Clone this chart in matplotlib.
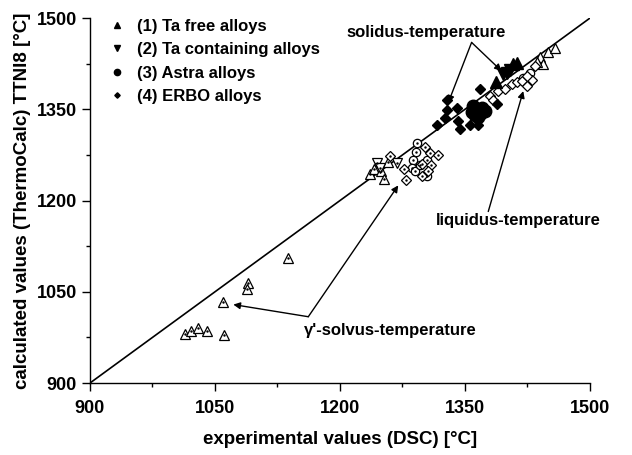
import matplotlib.pyplot as plt
from matplotlib.ticker import MultipleLocator

plt.rcParams['font.family'] = ['Liberation Sans', 'DejaVu Sans']
plt.rcParams['font.weight'] = 'bold'

# gamma' solvus (open markers with a dot)
ta_free_gs_x = [1014, 1021, 1030, 1041, 1061, 1060, 1090, 1089, 1138, 1236, 1241, 1249, 1253, 1258]
ta_free_gs_y = [981, 986, 991, 985, 979, 1034, 1064, 1054, 1105, 1243, 1252, 1248, 1235, 1264]
ta_cont_gs_x = [1244, 1248, 1268]
ta_cont_gs_y = [1261, 1254, 1262]
astra_gs_x = [1293, 1291, 1304, 1288, 1287, 1290, 1304, 1296]
astra_gs_y = [1295, 1280, 1267, 1267, 1254, 1248, 1240, 1259]
erbo_gs_x = [1260, 1302, 1308, 1318, 1277, 1298, 1309, 1299, 1306, 1279]
erbo_gs_y = [1274, 1288, 1279, 1275, 1252, 1260, 1258, 1240, 1248, 1233]

# solidus (filled markers)
ta_free_sol_x = [1408, 1412, 1387]
ta_free_sol_y = [1424, 1427, 1395]
ta_cont_sol_x = [1400, 1396, 1404]
ta_cont_sol_y = [1410, 1408, 1414]
astra_sol_x = [1358, 1364, 1370, 1362, 1368, 1374, 1360, 1366]
astra_sol_y = [1345, 1350, 1352, 1340, 1342, 1348, 1356, 1337]
erbo_sol_x = [1368, 1329, 1340, 1326, 1316, 1342, 1344, 1356, 1366, 1388, 1328]
erbo_sol_y = [1383, 1349, 1353, 1336, 1324, 1331, 1318, 1324, 1325, 1358, 1365]

# liquidus (open markers)
ta_liq_x = [1440, 1450, 1458, 1444, 1436]
ta_liq_y = [1436, 1444, 1451, 1425, 1428]
astra_liq_x = [1420, 1428]
astra_liq_y = [1402, 1410]
erbo_liq_x = [1380, 1390, 1398, 1406, 1412, 1418, 1424, 1430, 1424, 1434, 1384]
erbo_liq_y = [1372, 1380, 1383, 1391, 1395, 1397, 1389, 1399, 1405, 1421, 1366]

fig = plt.figure(figsize=(6.32, 4.55), dpi=100)
ax = fig.add_axes([0.1424, 0.1582, 0.791, 0.802])

ax.plot([900, 1500], [900, 1500], color='k', lw=1.2, zorder=1)

def open_dot(x, y, m, ms):
    ax.plot(x, y, m, ms=ms, mfc='white', mec='k', mew=0.9, ls='none', zorder=3)
    ax.plot(x, y, '.', ms=1.5, color='k', ls='none', zorder=4)

open_dot(ta_free_gs_x, ta_free_gs_y, '^', 6.5)
open_dot(ta_cont_gs_x, ta_cont_gs_y, 'v', 6.5)
open_dot(astra_gs_x, astra_gs_y, 'o', 6)
open_dot(erbo_gs_x, erbo_gs_y, 'D', 5.5)

ax.plot(ta_liq_x, ta_liq_y, '^', ms=6.5, mfc='white', mec='k', mew=0.9, ls='none', zorder=3)
ax.plot(astra_liq_x, astra_liq_y, 'o', ms=6, mfc='white', mec='k', mew=0.9, ls='none', zorder=3)
ax.plot(erbo_liq_x, erbo_liq_y, 'D', ms=5.5, mfc='white', mec='k', mew=0.9, ls='none', zorder=3)

l1, = ax.plot(ta_free_sol_x, ta_free_sol_y, '^', ms=9, color='k', ls='none', zorder=3)
l2, = ax.plot(ta_cont_sol_x, ta_cont_sol_y, 'v', ms=9, color='k', ls='none', zorder=3)
l3, = ax.plot(astra_sol_x, astra_sol_y, 'o', ms=9, color='k', ls='none', zorder=3)
l4, = ax.plot(erbo_sol_x, erbo_sol_y, 'D', ms=5.5, color='k', ls='none', zorder=3)

leg = ax.legend([l1, l2, l3, l4],
                ['(1) Ta free alloys', '(2) Ta containing alloys', '(3) Astra alloys', '(4) ERBO alloys'],
                loc='upper left', frameon=False, fontsize=12, markerscale=0.5,
                handlelength=1.0, handletextpad=0.7, labelspacing=0.5,
                borderaxespad=0.0, bbox_to_anchor=(0.025, 1.016))

arrow = dict(arrowstyle='-|>', color='k', lw=1.0, mutation_scale=10, shrinkA=0, shrinkB=0)

ax.text(1304, 1477, 'solidus-temperature', ha='center', va='center', fontsize=12, fontweight='bold')
ax.annotate('', xy=(1330, 1361), xytext=(1358, 1460), arrowprops=arrow)
ax.annotate('', xy=(1394, 1413), xytext=(1358, 1460), arrowprops=arrow)

ax.text(1414, 1167, 'liquidus-temperature', ha='center', va='center', fontsize=12, fontweight='bold')
ax.annotate('', xy=(1420, 1380), xytext=(1378, 1182), arrowprops=arrow)

ax.text(1260, 986, "γ'-solvus-temperature", ha='center', va='center', fontsize=12, fontweight='bold')
ax.annotate('', xy=(1072, 1029), xytext=(1162, 1009), arrowprops=arrow)
ax.annotate('', xy=(1270, 1225), xytext=(1162, 1009), arrowprops=arrow)

ax.set_xlim(900, 1500)
ax.set_ylim(900, 1500)
ax.xaxis.set_major_locator(MultipleLocator(150))
ax.yaxis.set_major_locator(MultipleLocator(150))
ax.xaxis.set_minor_locator(MultipleLocator(75))
ax.yaxis.set_minor_locator(MultipleLocator(75))
ax.tick_params(which='major', direction='out', length=6, width=1.0, labelsize=13)
ax.tick_params(axis='x', which='major', pad=6)
ax.tick_params(which='minor', direction='out', length=3, width=1.0)
ax.spines['top'].set_visible(False)
ax.spines['right'].set_visible(False)
ax.spines['left'].set_linewidth(1.0)
ax.spines['bottom'].set_linewidth(1.0)

ax.set_xlabel('experimental values (DSC) [°C]', fontsize=13.5, fontweight='bold', labelpad=10)
ax.set_ylabel('calculated values (ThermoCalc) TTNI8 [°C]', fontsize=13.5, fontweight='bold', labelpad=4)

fig.savefig('out.png', dpi=100)
